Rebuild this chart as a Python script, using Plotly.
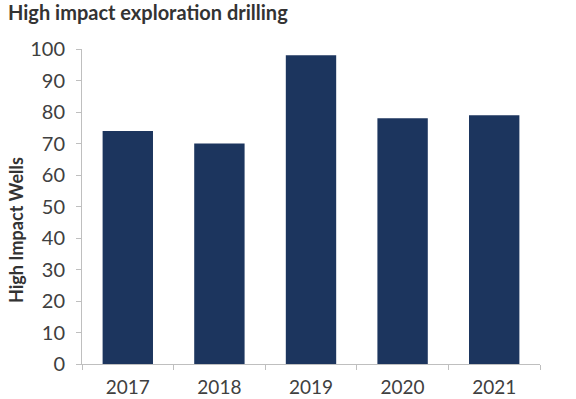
import plotly.graph_objects as go

years = ["2017", "2018", "2019", "2020", "2021"]
wells = [74, 70, 98, 78, 79]
y_ticks = list(range(0, 101, 10))

fig = go.Figure(go.Bar(
    x=years, y=wells,
    marker=dict(color="#1c355e", line=dict(width=0)),
    width=0.55,
))

fig.update_layout(
    width=576, height=399,
    margin=dict(l=82, r=36, t=49, b=35),
    paper_bgcolor="white", plot_bgcolor="white",
    font=dict(family="Lato", color="#404040", size=20),
    showlegend=False,
    title=dict(text="<b>High impact exploration drilling</b>", x=0.0, xanchor="left",
               xref="container", y=1.0, yanchor="top", yref="container",
               pad=dict(l=8, t=6),
               font=dict(size=20, color="#333333")),
    annotations=[dict(
        text="<b>High Impact Wells</b>", textangle=-90,
        xref="paper", yref="paper", x=0, y=0.4635, xanchor="center", yanchor="middle",
        xshift=-66, yshift=-12, showarrow=False,
        font=dict(size=18, color="#333333"),
    )],
)
fig.update_xaxes(
    type="category", showline=True, linecolor="#bfbfbf", linewidth=1,
    ticks="outside", tickson="boundaries", ticklen=5, tickcolor="#bfbfbf",
    ticklabelstandoff=6, showgrid=False, automargin=False,
    tickfont=dict(size=19),
)
fig.update_yaxes(
    range=[0, 100], tickvals=y_ticks, showline=True, linecolor="#bfbfbf", linewidth=1,
    ticks="outside", ticklen=5, tickcolor="#bfbfbf", showgrid=False, zeroline=False,
    ticklabelstandoff=7, automargin=False,
)

fig.write_html("out.html", post_script="document.body.style.margin='0';",
               config={"displayModeBar": False})
